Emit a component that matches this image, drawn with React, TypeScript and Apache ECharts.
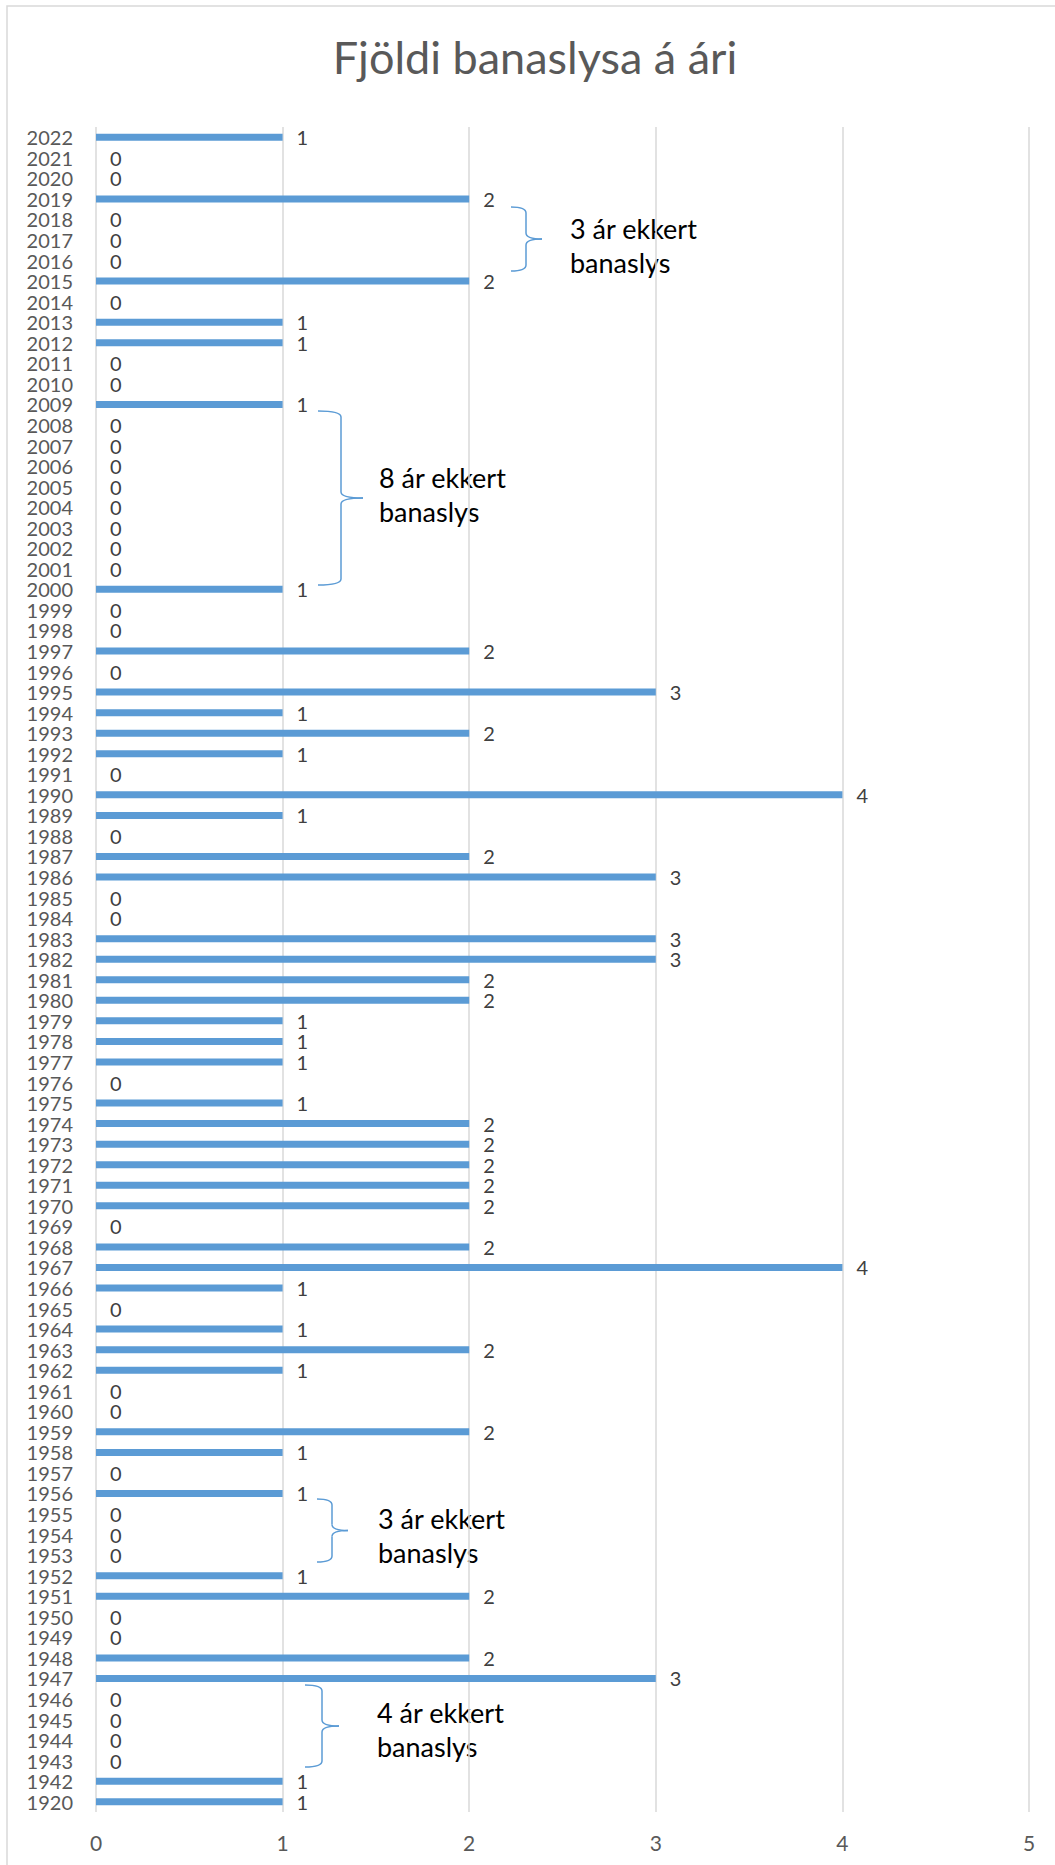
import React, { useEffect, useRef } from "react";
import * as echarts from "echarts";

const years: string[] = [
  "1920", "1942", "1943", "1944", "1945", "1946", "1947", "1948", "1949", "1950",
  "1951", "1952", "1953", "1954", "1955", "1956", "1957", "1958", "1959", "1960",
  "1961", "1962", "1963", "1964", "1965", "1966", "1967", "1968", "1969", "1970",
  "1971", "1972", "1973", "1974", "1975", "1976", "1977", "1978", "1979", "1980",
  "1981", "1982", "1983", "1984", "1985", "1986", "1987", "1988", "1989", "1990",
  "1991", "1992", "1993", "1994", "1995", "1996", "1997", "1998", "1999", "2000",
  "2001", "2002", "2003", "2004", "2005", "2006", "2007", "2008", "2009", "2010",
  "2011", "2012", "2013", "2014", "2015", "2016", "2017", "2018", "2019", "2020",
  "2021", "2022",
];

const deaths: number[] = [
  1, 1, 0, 0, 0, 0, 3, 2, 0, 0,
  2, 1, 0, 0, 0, 1, 0, 1, 2, 0,
  0, 1, 2, 1, 0, 1, 4, 2, 0, 2,
  2, 2, 2, 2, 1, 0, 1, 1, 1, 2,
  2, 3, 3, 0, 0, 3, 2, 0, 1, 4,
  0, 1, 2, 1, 3, 0, 2, 0, 0, 1,
  0, 0, 0, 0, 0, 0, 0, 0, 1, 0,
  0, 1, 1, 0, 2, 0, 0, 0, 2, 0,
  0, 1,
];

const xTicks = { min: 0, max: 5, interval: 1 };

const titleText = "Fjöldi banaslysa á ári";

const notes = [
  { text: "3 ár ekkert\nbanaslys", top: 207, bottom: 271, x0: 511, xs: 526, xt: 542, tx: 570, ty: 211 },
  { text: "8 ár ekkert\nbanaslys", top: 411, bottom: 585, x0: 318, xs: 341, xt: 363, tx: 379, ty: 460 },
  { text: "3 ár ekkert\nbanaslys", top: 1499, bottom: 1562, x0: 317, xs: 332, xt: 348, tx: 378, ty: 1501 },
  { text: "4 ár ekkert\nbanaslys", top: 1685, bottom: 1767, x0: 305, xs: 322, xt: 339, tx: 377, ty: 1695 },
];

const FONT = "Lato, 'Open Sans', sans-serif";
const BLUE = "#5B9BD5";
const GRAY = "#595959";
const GRID = "#D9D9D9";

function braceElements(n: typeof notes[number]) {
  const r = 6;
  const mid = (n.top + n.bottom) / 2;
  const style = { stroke: BLUE, lineWidth: 1.5, fill: "none" };
  return [
    { type: "bezierCurve", shape: { x1: n.x0, y1: n.top, x2: n.xs, y2: n.top + r, cpx1: n.xs, cpy1: n.top }, style },
    { type: "line", shape: { x1: n.xs, y1: n.top + r, x2: n.xs, y2: mid - r }, style },
    { type: "bezierCurve", shape: { x1: n.xs, y1: mid - r, x2: n.xt, y2: mid, cpx1: n.xs, cpy1: mid }, style },
    { type: "bezierCurve", shape: { x1: n.xt, y1: mid, x2: n.xs, y2: mid + r, cpx1: n.xs, cpy1: mid }, style },
    { type: "line", shape: { x1: n.xs, y1: mid + r, x2: n.xs, y2: n.bottom - r }, style },
    { type: "bezierCurve", shape: { x1: n.xs, y1: n.bottom - r, x2: n.x0, y2: n.bottom, cpx1: n.xs, cpy1: n.bottom }, style },
    {
      type: "text",
      x: n.tx,
      y: n.ty,
      style: {
        text: n.text,
        fill: "#000000",
        font: `27px ${FONT}`,
        lineHeight: 34,
        align: "left",
        verticalAlign: "top",
      },
    },
  ];
}

export default function App() {
  const ref = useRef<HTMLDivElement>(null);

  useEffect(() => {
    if (!ref.current) return;
    const chart = echarts.init(ref.current, null, { renderer: "svg" });
    const graphics: any[] = [
      {
        type: "rect",
        shape: { x: 7, y: 6, width: 1100, height: 1900 },
        style: { fill: "none", stroke: GRID, lineWidth: 1.5 },
        z: -10,
      },
      {
        type: "text",
        x: 535,
        y: 57,
        style: {
          text: titleText,
          fill: GRAY,
          font: `45px ${FONT}`,
          align: "center",
          verticalAlign: "middle",
        },
      },
    ];
    notes.forEach((n) => graphics.push(...braceElements(n)));

    chart.setOption({
      animation: false,
      backgroundColor: "#ffffff",
      grid: { left: 96, right: 26, top: 127, bottom: 53, containLabel: false },
      xAxis: {
        type: "value",
        min: xTicks.min,
        max: xTicks.max,
        interval: xTicks.interval,
        axisLine: { show: false },
        axisTick: { show: false },
        splitLine: { show: true, lineStyle: { color: GRID, width: 1.5 } },
        axisLabel: { color: GRAY, fontSize: 21, fontFamily: FONT, margin: 20 },
      },
      yAxis: {
        type: "category",
        data: years,
        axisLine: { show: false },
        axisTick: { show: false },
        axisLabel: { color: GRAY, fontSize: 20, fontFamily: FONT, margin: 23, interval: 0 },
      },
      series: [
        {
          type: "bar",
          data: deaths,
          barWidth: 7,
          itemStyle: { color: BLUE },
          label: {
            show: true,
            position: "right",
            distance: 14,
            color: "#404040",
            fontSize: 20,
            fontFamily: FONT,
          },
        },
      ],
      graphic: graphics,
    });
    return () => chart.dispose();
  }, []);

  return (
    <div
      ref={ref}
      style={{ position: "absolute", left: 0, top: 0, width: 1055, height: 1865 }}
    />
  );
}
